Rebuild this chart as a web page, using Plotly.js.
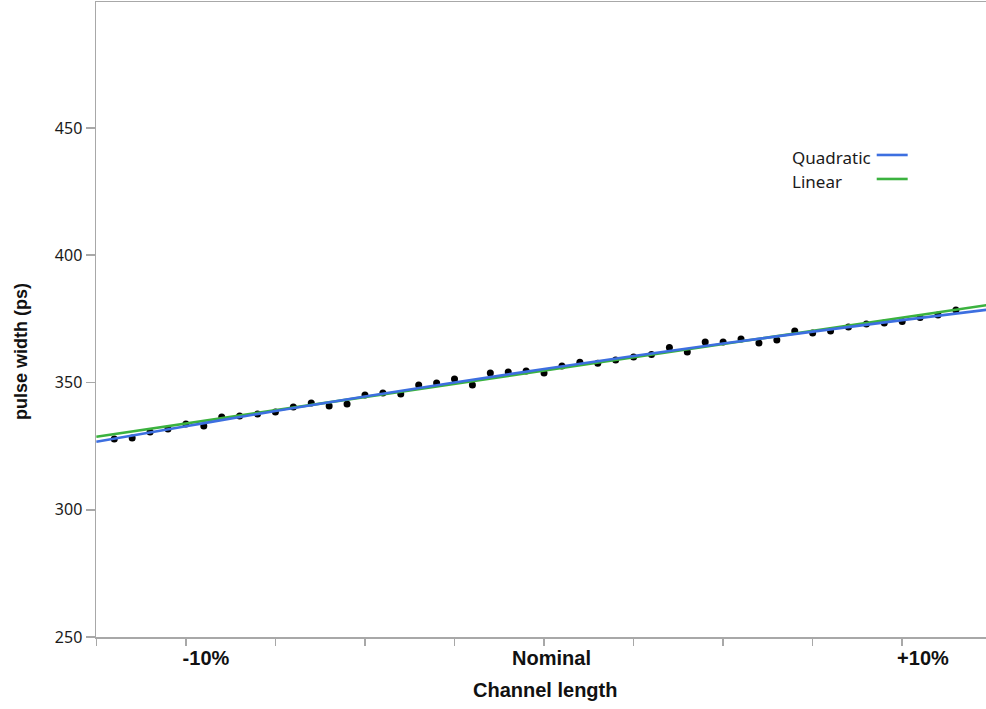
<!DOCTYPE html>
<html>
<head>
<meta charset="utf-8">
<script src="https://cdn.plot.ly/plotly-3.0.1.min.js"></script>
<style>
  html, body { margin: 0; padding: 0; background: #fff; }
  #chart { width: 986px; height: 709px; }
</style>
</head>
<body>
<div id="chart"></div>
<script>
// Channel length deviation from nominal (%) and measured pulse width (ps)
const channelPct = [
  -12, -11.5, -11, -10.5, -10, -9.5, -9, -8.5, -8, -7.5, -7, -6.5, -6, -5.5, -5, -4.5,
  -4, -3.5, -3, -2.5, -2, -1.5, -1, -0.5, 0, 0.5, 1, 1.5, 2, 2.5, 3, 3.5,
  4, 4.5, 5, 5.5, 6, 6.5, 7, 7.5, 8, 8.5, 9, 9.5, 10, 10.5, 11, 11.5
];
const pulseWidth = [
  327.8, 328.2, 330.5, 331.7, 333.7, 332.9, 336.4, 336.8, 337.6, 338.4, 340.4, 341.9, 340.8, 341.5, 345.1, 345.9,
  345.5, 349.0, 349.8, 351.4, 349.0, 353.7, 354.1, 354.5, 353.7, 356.5, 358.0, 357.6, 358.8, 360.0, 361.0, 363.7,
  362.0, 365.9, 365.9, 367.1, 365.5, 366.7, 370.2, 369.4, 370.2, 371.8, 373.0, 373.4, 374.0, 375.5, 376.5, 378.5
];

// Fitted curves, sampled along the channel-length axis
const fitX = [-12.5, -10, -7.5, -5, -2.5, 0, 2.5, 5, 7.5, 10, 12.5];
const linearFit = [328.7, 333.9, 339.1, 344.3, 349.5, 354.7, 359.9, 365.1, 370.3, 375.5, 380.7];
const quadraticFit = [326.7, 332.8, 338.8, 344.5, 350.0, 355.3, 360.4, 365.3, 370.0, 374.5, 378.8];

// Axis labels
const xTickText = ['-10%', 'Nominal', '+10%'];
const yTickVals = [250, 300, 350, 400, 450];

const BLUE = '#3d6fe0';
const GREEN = '#3bb23f';
const AXIS = '#a8a8a8';

const traces = [
  {
    x: channelPct, y: pulseWidth, type: 'scatter', mode: 'markers',
    marker: { color: '#000', size: 7 }, name: 'data', hoverinfo: 'x+y'
  },
  {
    x: fitX, y: linearFit, type: 'scatter', mode: 'lines',
    line: { color: GREEN, width: 2.6 }, name: 'Linear'
  },
  {
    x: fitX, y: quadraticFit, type: 'scatter', mode: 'lines',
    line: { color: BLUE, width: 2.6, shape: 'spline' }, name: 'Quadratic'
  }
];

const legendFont = { family: 'Noto Sans, sans-serif', size: 17, color: '#1a1a1a' };
const titleFont = { family: 'Liberation Sans, Arial, sans-serif', size: 20, color: '#111' };

const layout = {
  width: 986, height: 709,
  margin: { l: 96, r: 0, t: 2, b: 72, pad: 0 },
  paper_bgcolor: '#fff', plot_bgcolor: '#fff',
  showlegend: false,
  xaxis: {
    range: [-12.51, 12.34],
    tickmode: 'array',
    tickvals: [-9.44, 0.21, 10.58],
    ticktext: xTickText.map(t => '<b>' + t + '</b>'),
    ticks: '',
    tickfont: { family: 'Liberation Sans, Arial, sans-serif', size: 20, color: '#111' },
    ticklabelstandoff: 2,
    minor: { tickmode: 'linear', tick0: 0, dtick: 2.5, ticks: 'outside', ticklen: 7, tickcolor: AXIS, tickwidth: 1.5, showgrid: false },
    showline: true, linecolor: AXIS, linewidth: 1.5, mirror: true,
    showgrid: false, zeroline: false
  },
  yaxis: {
    range: [250, 499.5],
    tickmode: 'array',
    tickvals: yTickVals,
    ticks: 'outside', ticklen: 9, tickcolor: AXIS, tickwidth: 1.5,
    tickfont: { family: 'Noto Sans, sans-serif', size: 16, color: '#1a1a1a' },
    showline: true, linecolor: AXIS, linewidth: 1.5,
    showgrid: false, zeroline: false
  },
  annotations: [
    { text: '<b>Channel length</b>', xref: 'paper', yref: 'paper', x: 0.505, y: -0.0835,
      xanchor: 'center', yanchor: 'middle', showarrow: false, font: titleFont },
    { text: '<b>pulse width (ps)</b>', xref: 'paper', yref: 'paper', x: -0.0835, y: 0.45,
      xanchor: 'center', yanchor: 'middle', textangle: -90, showarrow: false,
      font: { family: 'Liberation Sans, Arial, sans-serif', size: 18, color: '#111' } },
    { text: 'Quadratic', xref: 'paper', yref: 'paper', x: 0.7798, y: 0.7559,
      xanchor: 'left', yanchor: 'middle', showarrow: false, font: legendFont },
    { text: 'Linear', xref: 'paper', yref: 'paper', x: 0.7798, y: 0.7181,
      xanchor: 'left', yanchor: 'middle', showarrow: false, font: legendFont }
  ],
  shapes: [
    { type: 'line', xref: 'paper', yref: 'paper', x0: 0.8772, x1: 0.912, y0: 0.7591, y1: 0.7591,
      line: { color: BLUE, width: 2.6 } },
    { type: 'line', xref: 'paper', yref: 'paper', x0: 0.8772, x1: 0.912, y0: 0.7213, y1: 0.7213,
      line: { color: GREEN, width: 2.6 } }
  ]
};

Plotly.newPlot('chart', traces, layout, { displayModeBar: false, staticPlot: true });
</script>
</body>
</html>
